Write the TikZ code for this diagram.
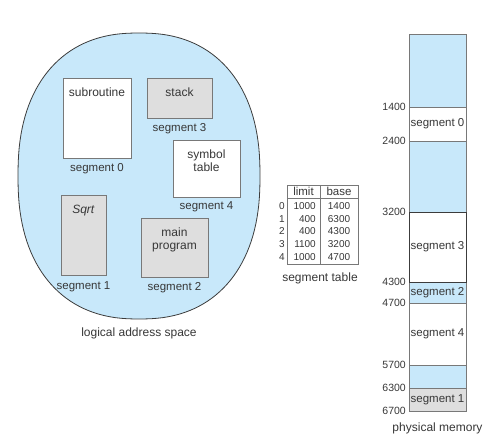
\documentclass[tikz,border=0pt]{standalone}
\usepackage{fontspec}
\setmainfont{Liberation Sans}
\usetikzlibrary{positioning,calc}
\definecolor{segblue}{RGB}{200,232,250}
\definecolor{seggray}{RGB}{222,222,222}
\definecolor{segline}{RGB}{120,120,120}
\definecolor{segdark}{RGB}{60,60,60}
\definecolor{segtext}{RGB}{55,55,55}

\begin{document}
\begin{tikzpicture}[
    x=1pt, y=-1pt,
    every node/.style={text=segtext},
    segbox/.style={draw=segline, line width=0.6pt, inner sep=0pt, outer sep=0pt},
    whitebox/.style={segbox, fill=white},
    graybox/.style={segbox, fill=seggray},
    toplbl/.style={font=\fontsize{12}{13}\selectfont, align=center, inner sep=1pt},
    seglbl/.style={font=\fontsize{11.5}{12}\selectfont, inner sep=1pt},
    caption/.style={font=\fontsize{12}{13}\selectfont, inner sep=1pt},
    num/.style={font=\fontsize{10}{12}\selectfont, inner sep=0pt},
    addr/.style={font=\fontsize{10.5}{12}\selectfont, inner sep=0pt},
    memcell/.style={draw=segline, line width=0.6pt, minimum width=57pt, inner sep=0pt, outer sep=0pt, font=\fontsize{11.5}{12}\selectfont},
    cell/.style={draw=segline, line width=0.6pt, inner sep=0pt, outer sep=0pt, font=\fontsize{11.5}{12}\selectfont},
]
\useasboundingbox (0,0) rectangle (486,444);

% logical address space
\draw[draw=segdark, line width=0.8pt, fill=segblue]
    plot[domain=1.25:358.75, samples=144]
    ({139+121*sign(cos(\x))*abs(cos(\x))^0.86}, {176+143*sign(sin(\x))*abs(sin(\x))^0.86}) -- cycle;
\coordinate (lasbot) at (139,319);
\node[caption, below=8pt of lasbot] {logical address space};

\node[whitebox, minimum width=68pt, minimum height=80pt] (sub)  at (97,118) {};
\node[graybox,  minimum width=65pt, minimum height=40pt] (stk)  at (179.5,98) {};
\node[whitebox, minimum width=67pt, minimum height=57pt] (sym)  at (206.5,168.5) {};
\node[graybox,  minimum width=45pt, minimum height=80pt] (sqrt) at (83.5,235) {};
\node[graybox,  minimum width=67pt, minimum height=59pt] (mainp) at (174.5,247.5) {};

\node[toplbl, below=9pt of sub.north]   {subroutine};
\node[toplbl, below=9pt of stk.north]   {stack};
\node[toplbl, below=9pt of sym.north]   {symbol\\table};
\node[toplbl, below=9pt of sqrt.north]  {\textit{Sqrt}};
\node[toplbl, below=9pt of mainp.north] {main\\program};

\node[seglbl, below=4.5pt of sub]   {segment 0};
\node[seglbl, below=4.5pt of stk]   {segment 3};
\node[seglbl, below=3pt of sym]     {segment 4};
\node[seglbl, below=5.5pt of sqrt]  {segment 1};
\node[seglbl, below=4.5pt of mainp] {segment 2};

% segment table
\node[cell, minimum width=33pt, minimum height=13pt] (hlim) at (303.5,191.5) {limit};
\node[cell, minimum width=38pt, minimum height=13pt, right=0pt of hlim] (hbase) {base};
\node[cell, minimum width=33pt, minimum height=66pt, below=0pt of hlim]  (dlim)  {};
\node[cell, minimum width=38pt, minimum height=66pt, below=0pt of hbase] (dbase) {};

\foreach \i/\lim/\bas in {0/1000/1400, 1/400/6300, 2/400/4300, 3/1100/3200, 4/1000/4700} {
    \node[num] (idx\i) at ($(dlim.north west)+(-5,8+12.7*\i)$) {\i};
    \node[num, anchor=east] (lim\i) at ($(dlim.north east)+(-4,8+12.7*\i)$) {\lim};
    \node[num] (bas\i) at ($(dbase.north)+(0,8+12.7*\i)$) {\bas};
}
\node[caption, below=7.5pt of dlim.south east] {segment table};

% physical memory
\node[memcell, fill=segblue, minimum height=73pt, anchor=north] (m0) at (437.5,34) {};
\node[memcell, fill=white,   minimum height=34pt, below=0pt of m0] (m1) {segment 0};
\node[memcell, fill=segblue, minimum height=71pt, below=0pt of m1] (m2) {};
\node[memcell, fill=white,   minimum height=70pt, below=0pt of m2] (m3) {segment 3};
\node[memcell, fill=segblue, minimum height=21pt, below=0pt of m3] (m4) {segment 2};
\node[memcell, fill=white,   minimum height=62pt, below=0pt of m4] (m5) {segment 4};
\node[memcell, fill=segblue, minimum height=23pt, below=0pt of m5] (m6) {};
\node[memcell, fill=seggray, minimum height=23pt, below=0pt of m6] (m7) {segment 1};
\draw[draw=segdark, line width=0.8pt] (m3.north west) rectangle (m3.south east);

\node[addr, left=3pt of m1.north west] {1400};
\node[addr, left=3pt of m1.south west] {2400};
\node[addr, left=3pt of m3.north west] {3200};
\node[addr, left=3pt of m3.south west] {4300};
\node[addr, left=3pt of m5.north west] {4700};
\node[addr, left=3pt of m5.south west] {5700};
\node[addr, left=3pt of m7.north west] {6300};
\node[addr, left=3pt of m7.south west] {6700};

\node[caption, below=10.5pt of m7] {physical memory};
\end{tikzpicture}
\end{document}
